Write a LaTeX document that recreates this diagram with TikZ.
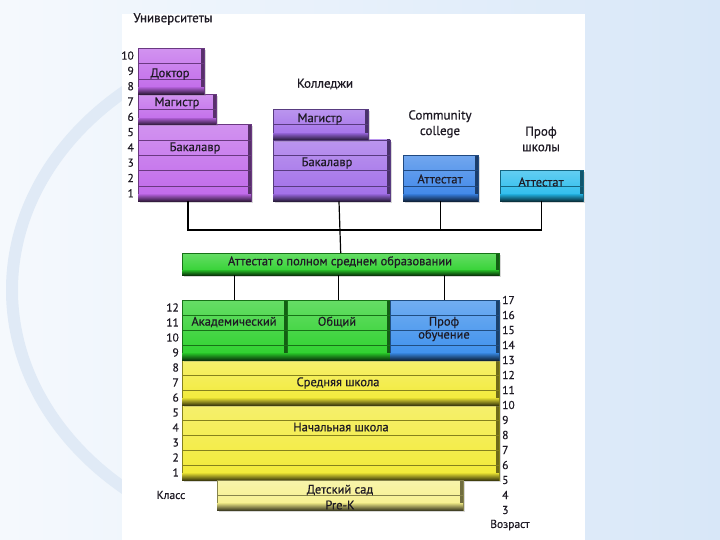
\documentclass[tikz,border=0pt]{standalone}
\usepackage{fontspec}
\setmainfont{PT Sans}
\usetikzlibrary{calc,shadows}
\definecolor{bgblue}{RGB}{216,231,248}
\definecolor{arcblue}{RGB}{224,234,246}
\definecolor{unipurple}{RGB}{192,104,234}
\definecolor{colpurple}{RGB}{160,108,232}
\definecolor{ccblue}{RGB}{58,132,232}
\definecolor{pscyan}{RGB}{36,186,236}
\definecolor{hsgreen}{RGB}{42,208,42}
\definecolor{voblue}{RGB}{58,142,236}
\definecolor{schyellow}{RGB}{242,234,52}
\definecolor{kgyellow}{RGB}{246,240,138}
\definecolor{txt}{RGB}{30,26,36}
\tikzset{
  block/.style={anchor=north west, inner sep=0pt, draw=#1!55!black, line width=0.4pt,
    top color=#1!72!white, bottom color=#1,
    drop shadow={shadow xshift=1.6pt, shadow yshift=-1.6pt, opacity=0.3},
    path picture={
      \shade[left color=#1!85!black, right color=#1!45!black]
        ([xshift=-3pt]path picture bounding box.north east) rectangle (path picture bounding box.south east);}},
  rowline/.style={draw=#1!55!black, line width=0.6pt},
  lbl/.style={text=txt, font=\fontsize{12.5}{13}\selectfont\addfontfeature{FakeBold=0.6}, inner sep=0pt},
  head/.style={text=txt, font=\fontsize{13}{15.5}\selectfont\addfontfeature{FakeBold=0.6}, align=center, inner sep=0pt},
  num/.style={text=txt, font=\fontsize{11.5}{12}\selectfont\addfontfeature{FakeBold=0.4}, inner sep=0pt},
  link/.style={draw=black, line width=1.2pt}
}
\newcommand{\rowlines}[3]{%
  \shade[top color=#3!85!black, bottom color=#3!25!black] ($(#1.south west)+(0.2,-6.5)$) rectangle ($(#1.south east)+(-0.2,-0.2)$);
  \foreach \k [evaluate=\k as \f using (\k-1)/#2] in {2,...,#2}
    \draw[rowline=#3] ($(#1.north west)!\f!(#1.south west)$) -- ($(#1.north east)!\f!(#1.south east)$);}

\begin{document}
\begin{tikzpicture}[x=1pt,y=-1pt]
\useasboundingbox (0,0) rectangle (720,540);
\shade[left color=white!75!bgblue, right color=bgblue] (0,0) rectangle (720,540);
\draw[arcblue, line width=12pt] (330,290) ++(130:318 and 260) arc[start angle=130, end angle=232, x radius=318, y radius=260];
\fill[white] (122,14) rectangle (585,540);

\node[head] (tuni) at (173,19) {Университеты};
\node[block=unipurple, minimum width=113pt, minimum height=76.5pt] (ubach) at (138,124.5) {};
\rowlines{ubach}{5}{unipurple}
\node[block=unipurple, minimum width=78pt, minimum height=30.6pt] (umag) at (138,93.9) {};
\rowlines{umag}{2}{unipurple}
\node[block=unipurple, minimum width=66pt, minimum height=45.9pt] (udoc) at (138,48) {};
\rowlines{udoc}{3}{unipurple}
\node[lbl] (tudoc) at (170,74) {Доктор};
\node[lbl] (tumag) at (177,103) {Магистр};
\node[lbl] (tubach) at (195,148) {Бакалавр};
\foreach \g in {1,...,10}
  \node[num, anchor=east] (ug\g) at (134,{48+(10-\g)*15.3+7.6}) {\g};

\node[head] (tcol) at (325,84) {Колледжи};
\node[block=colpurple, minimum width=117pt, minimum height=61.2pt] (cbach) at (273,139.8) {};
\rowlines{cbach}{4}{colpurple}
\node[block=colpurple, minimum width=95pt, minimum height=30.6pt] (cmag) at (273,109.2) {};
\rowlines{cmag}{2}{colpurple}
\node[lbl] (tcmag) at (320,119) {Магистр};
\node[lbl] (tcbach) at (327,163) {Бакалавр};

\node[head] (tcc) at (440,124) {Community\\college};
\node[block=ccblue, minimum width=75pt, minimum height=45.9pt] (cc) at (403,155.1) {};
\rowlines{cc}{3}{ccblue}
\node[lbl] (tcc1) at (440,179) {Аттестат};

\node[head] (tps) at (541,139) {Проф\\школы};
\node[block=pscyan, minimum width=83pt, minimum height=30.6pt] (ps) at (500,170.4) {};
\rowlines{ps}{2}{pscyan}
\node[lbl] (tps1) at (541,182) {Аттестат};

\coordinate (hub) at (339,230);
\node[block=hsgreen, minimum width=317pt, minimum height=22pt] (gbar) at (182,253) {};
\shade[top color=hsgreen!85!black, bottom color=hsgreen!25!black] ($(gbar.south west)+(0.2,-5)$) rectangle ($(gbar.south east)+(-0.2,-0.2)$);
\node[lbl] (tgbar) at (340,262) {Аттестат о полном среднем образовании};
\draw[link] (ubach.south -| 188,0) |- (hub) -| (ps.south);
\draw[link] (cc.south) -- (cc.south |- hub);
\draw[link] (hub |- cbach.south) -- (gbar.north);

\node[block=schyellow, minimum width=317pt, minimum height=75pt] (elem) at (182,405) {};
\rowlines{elem}{5}{schyellow}
\node[block=schyellow, minimum width=317pt, minimum height=45pt] (mid) at (182,360) {};
\rowlines{mid}{3}{schyellow}
\node[block=kgyellow, minimum width=246pt, minimum height=30pt] (kg) at (217,480) {};
\rowlines{kg}{2}{kgyellow}
\node[block=hsgreen, minimum width=105pt, minimum height=60pt] (acad) at (182,300) {};
\rowlines{acad}{4}{hsgreen}
\node[block=hsgreen, minimum width=103pt, minimum height=60pt] (gen) at (287,300) {};
\rowlines{gen}{4}{hsgreen}
\node[block=voblue, minimum width=109pt, minimum height=60pt] (voc) at (390,300) {};
\rowlines{voc}{4}{voblue}
\draw[link] (gbar.south -| acad.north) -- (acad.north);
\draw[link] (gbar.south -| gen.north) -- (gen.north);
\draw[link] (gbar.south -| voc.north) -- (voc.north);

\node[lbl] (tacad) at (234,322) {Академический};
\node[lbl] (tgen) at (337,322) {Общий};
\node[lbl, align=center] (tvoc) at (444,329) {Проф\\обучение};
\node[lbl] (tmid) at (338,383) {Средняя школа};
\node[lbl] (telem) at (341,427) {Начальная школа};
\node[lbl] (tkg) at (340,490) {Детский сад};
\node[lbl] (tpk) at (340,505) {Pre-K};

\foreach \g in {1,...,12}
  \node[num, anchor=east] (g\g) at (179,{300+(12-\g)*15+7.5}) {\g};
\foreach \a in {3,...,17}
  \node[num, anchor=west] (a\a) at (502,{300+(17-\a)*15}) {\a};
\node[num] (tclass) at (171,495) {Класс};
\node[num] (tage) at (510,525) {Возраст};
\end{tikzpicture}
\end{document}
